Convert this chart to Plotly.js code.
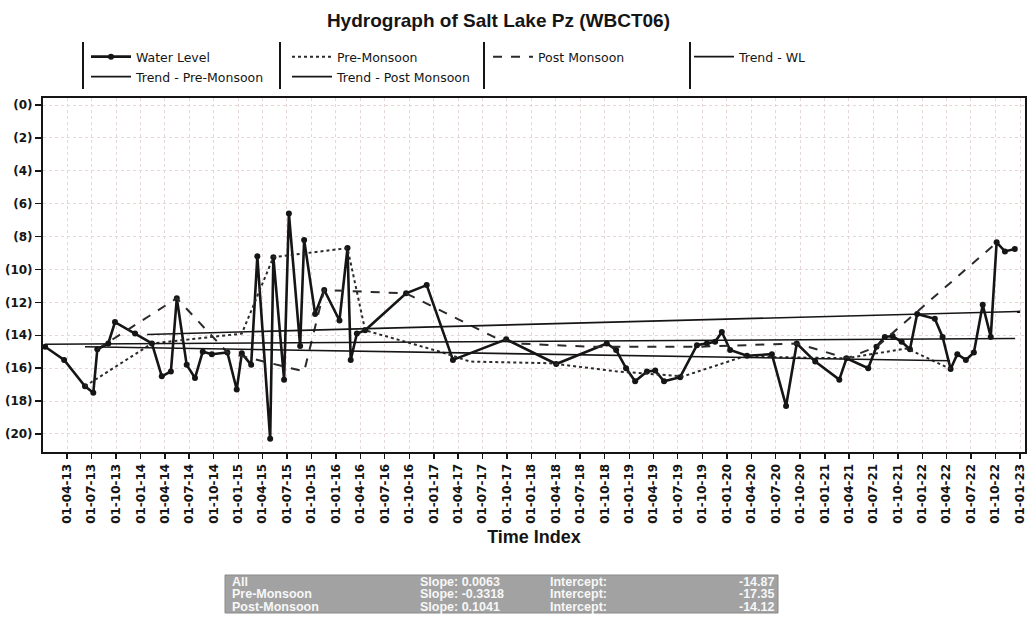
<!DOCTYPE html>
<html><head><meta charset="utf-8">
<script src="https://cdn.plot.ly/plotly-3.0.1.min.js"></script>
<style>html,body{margin:0;padding:0;background:#fff;} #chart{width:1032px;height:618px;}</style>
</head><body><div id="chart"></div>
<script>
// ---- Water level series (depth below ground, m; negative = below ground) ----
const wlDates = ['2013-01-09','2013-03-21','2013-06-07','2013-07-08','2013-07-23','2013-09-02','2013-09-27','2013-12-11',
 '2014-02-12','2014-03-21','2014-04-24','2014-05-16','2014-06-22','2014-07-23','2014-08-21','2014-09-24','2014-11-21','2014-12-26',
 '2015-01-14','2015-02-18','2015-03-13','2015-04-30','2015-05-12','2015-06-21','2015-07-09','2015-08-20','2015-09-04','2015-10-15','2015-11-18',
 '2016-01-14','2016-02-13','2016-02-25','2016-03-19','2016-04-19','2016-09-19','2016-12-05',
 '2017-03-13','2017-09-28','2018-04-03','2018-10-09','2018-11-13','2018-12-20',
 '2019-01-23','2019-03-08','2019-04-08','2019-05-11','2019-07-10','2019-09-11','2019-10-18','2019-11-18','2019-12-13',
 '2020-01-13','2020-03-16','2020-06-17','2020-08-09','2020-09-18','2020-11-26',
 '2021-02-24','2021-03-23','2021-06-12','2021-07-13','2021-08-13','2021-09-11','2021-10-15','2021-11-15','2021-12-12',
 '2022-02-16','2022-03-17','2022-04-16','2022-05-11','2022-06-12','2022-07-12','2022-08-14','2022-09-13','2022-10-05','2022-11-05','2022-12-12'];
const wlValues = [-14.7,-15.5,-17.1,-17.5,-14.85,-14.5,-13.2,-13.9,
 -14.5,-16.5,-16.2,-11.75,-15.8,-16.6,-15.0,-15.15,-15.05,-17.3,
 -15.1,-15.8,-9.2,-20.3,-9.25,-16.7,-6.6,-14.65,-8.2,-12.7,-11.25,
 -13.1,-8.7,-15.5,-13.9,-13.7,-11.45,-10.95,
 -15.5,-14.25,-15.75,-14.5,-14.9,-16.0,
 -16.8,-16.2,-16.15,-16.8,-16.55,-14.6,-14.5,-14.4,-13.8,
 -14.9,-15.25,-15.15,-18.3,-14.5,-15.6,
 -16.7,-15.4,-16.0,-14.7,-14.1,-14.05,-14.4,-14.85,-12.7,
 -13.0,-14.1,-16.05,-15.15,-15.5,-15.05,-12.15,-14.1,-8.35,-8.9,-8.75];

// ---- Pre-Monsoon series ----
const preDates = ['2013-06-07','2014-02-12','2015-01-14','2015-05-12','2016-02-13','2016-04-19','2017-01-24','2017-05-16',
 '2018-03-11','2018-11-17','2019-07-21','2020-03-02','2021-03-23','2021-11-03','2022-04-16'];
const preValues = [-17.1,-14.5,-13.9,-9.25,-8.7,-13.7,-15.0,-15.6,-15.7,-16.2,-16.5,-15.3,-15.4,-14.8,-16.05];

// ---- Post-Monsoon series ----
const postDates = ['2013-07-23','2014-05-16','2014-11-21','2015-09-04','2015-11-18','2016-09-19','2017-08-25','2017-11-08',
 '2018-08-08','2019-09-12','2020-09-19','2021-03-24','2021-07-14','2022-10-06'];
const postValues = [-14.85,-11.75,-15.05,-16.2,-11.25,-11.45,-14.2,-14.5,-14.7,-14.7,-14.5,-15.4,-14.7,-8.35];

// ---- Trend lines (end points) ----
const trendWLDates = ['2013-01-09','2022-12-13'];
const trendWLValues = [-14.55,-14.2];
const trendPreDates = ['2013-06-07','2022-04-14'];
const trendPreValues = [-14.7,-15.55];
const trendPostDates = ['2014-01-25','2023-01-01'];
const trendPostValues = [-13.95,-12.55];

// ---- Axis ticks ----
const xTickVals = ['2013-04-01','2013-07-01','2013-10-01',
 '2014-01-01','2014-04-01','2014-07-01','2014-10-01','2015-01-01','2015-04-01','2015-07-01','2015-10-01',
 '2016-01-01','2016-04-01','2016-07-01','2016-10-01','2017-01-01','2017-04-01','2017-07-01','2017-10-01',
 '2018-01-01','2018-04-01','2018-07-01','2018-10-01','2019-01-01','2019-04-01','2019-07-01','2019-10-01',
 '2020-01-01','2020-04-01','2020-07-01','2020-10-01','2021-01-01','2021-04-01','2021-07-01','2021-10-01',
 '2022-01-01','2022-04-01','2022-07-01','2022-10-01','2023-01-01'];
const xTickText = ['01-04-13','01-07-13','01-10-13',
 '01-01-14','01-04-14','01-07-14','01-10-14','01-01-15','01-04-15','01-07-15','01-10-15',
 '01-01-16','01-04-16','01-07-16','01-10-16','01-01-17','01-04-17','01-07-17','01-10-17',
 '01-01-18','01-04-18','01-07-18','01-10-18','01-01-19','01-04-19','01-07-19','01-10-19',
 '01-01-20','01-04-20','01-07-20','01-10-20','01-01-21','01-04-21','01-07-21','01-10-21',
 '01-01-22','01-04-22','01-07-22','01-10-22','01-01-23'];
const yTickVals = [0,-2,-4,-6,-8,-10,-12,-14,-16,-18,-20];
const yTickText = ['(0)','(2)','(4)','(6)','(8)','(10)','(12)','(14)','(16)','(18)','(20)'];

// ---- Regression summary ----
const statLabels = ['All','Pre-Monsoon','Post-Monsoon'];
const statSlopes = ['0.0063','-0.3318','0.1041'];
const statIntercepts = ['-14.87','-17.35','-14.12'];

const ink = '#151515';
const traces = [
  {x: wlDates, y: wlValues, name: 'Water Level', type: 'scatter', mode: 'lines+markers',
   line: {color: ink, width: 2.6}, marker: {color: ink, size: 6, symbol: 'circle'}, legend: 'legend'},
  {x: preDates, y: preValues, name: 'Pre-Monsoon', type: 'scatter', mode: 'lines',
   line: {color: '#2a2a2a', width: 2, dash: 'dot'}, legend: 'legend'},
  {x: postDates, y: postValues, name: 'Post Monsoon', type: 'scatter', mode: 'lines',
   line: {color: '#2a2a2a', width: 2, dash: 'dash'}, legend: 'legend'},
  {x: trendWLDates, y: trendWLValues, name: 'Trend - WL', type: 'scatter', mode: 'lines',
   line: {color: ink, width: 1.6}, legend: 'legend'},
  {x: trendPreDates, y: trendPreValues, name: 'Trend - Pre-Monsoon', type: 'scatter', mode: 'lines',
   line: {color: ink, width: 1.6}, legend: 'legend2'},
  {x: trendPostDates, y: trendPostValues, name: 'Trend - Post Monsoon', type: 'scatter', mode: 'lines',
   line: {color: ink, width: 1.6}, legend: 'legend2'}
];

// pixel helpers for paper coordinates (plot area: x 43..1025, y 98..452)
const PL = 43, PW = 982, PB = 452, PH = 354;
const px = v => (v - PL) / PW;
const py = v => (PB - v) / PH;

const legendFont = {family: 'DejaVu Sans, Arial, sans-serif', size: 12.5, color: ink};
const legCommon = {orientation: 'h', xanchor: 'left', yanchor: 'middle', entrywidth: 146, entrywidthmode: 'pixels',
  font: legendFont, bgcolor: 'rgba(0,0,0,0)', borderwidth: 0, itemwidth: 40, traceorder: 'normal'};

const shapes = [];
[83, 280, 484, 690].forEach(xp => shapes.push({type: 'line', xref: 'paper', yref: 'paper',
  x0: px(xp), x1: px(xp), y0: py(42), y1: py(89), line: {color: ink, width: 2}}));
shapes.push({type: 'rect', xref: 'paper', yref: 'paper', x0: px(225), x1: px(778), y0: py(575), y1: py(613),
  fillcolor: '#a2a2a2', line: {color: '#8a8a8a', width: 1}, layer: 'above'});

const annotations = [];
const statFont = {family: 'Liberation Sans, Arial, sans-serif', size: 12.5, color: '#f7f7f7', weight: 'bold'};
const rowY = [581.5, 594, 606.5];
statLabels.forEach((lab, i) => {
  const yv = py(rowY[i]);
  annotations.push({xref: 'paper', yref: 'paper', x: px(230), y: yv, xanchor: 'left', yanchor: 'middle', showarrow: false, text: lab, font: statFont});
  annotations.push({xref: 'paper', yref: 'paper', x: px(418), y: yv, xanchor: 'left', yanchor: 'middle', showarrow: false, text: 'Slope: ' + statSlopes[i], font: statFont});
  annotations.push({xref: 'paper', yref: 'paper', x: px(548), y: yv, xanchor: 'left', yanchor: 'middle', showarrow: false, text: 'Intercept:', font: statFont});
  annotations.push({xref: 'paper', yref: 'paper', x: px(776), y: yv, xanchor: 'right', yanchor: 'middle', showarrow: false, text: statIntercepts[i], font: statFont});
});

const gridColor = '#e6d6d6';
const tickFont = {family: 'DejaVu Sans, Arial, sans-serif', size: 12, color: ink, weight: 'bold'};
const layout = {
  width: 1032, height: 618,
  margin: {l: 43, r: 7, t: 98, b: 166},
  paper_bgcolor: '#ffffff', plot_bgcolor: '#ffffff',
  title: {text: 'Hydrograph of Salt Lake Pz (WBCT06)', x: 0.483, xanchor: 'center', y: 0.967, yanchor: 'middle',
    font: {family: 'Liberation Sans, Arial, sans-serif', size: 19, weight: 'bold', color: ink}},
  xaxis: {type: 'date', range: ['2013-01-01', '2023-01-19'], tickmode: 'array', tickvals: xTickVals, ticktext: xTickText,
    tickangle: -90, ticks: 'outside', ticklen: 5, tickwidth: 1.5, tickcolor: ink,
    showline: true, linewidth: 2, linecolor: ink, mirror: true, zeroline: false,
    showgrid: true, gridcolor: gridColor, griddash: 'dot', gridwidth: 1,
    tickfont: tickFont,
    title: {text: 'Time Index', standoff: 8, font: {family: 'Liberation Sans, Arial, sans-serif', size: 18, weight: 'bold', color: ink}}},
  yaxis: {range: [-21.1, 0.43], tickmode: 'array', tickvals: yTickVals, ticktext: yTickText,
    ticks: 'outside', ticklen: 6, tickwidth: 1.5, tickcolor: ink,
    showline: true, linewidth: 2, linecolor: ink, mirror: true, zeroline: false,
    showgrid: true, gridcolor: gridColor, griddash: 'dot', gridwidth: 1,
    tickfont: tickFont},
  legend: Object.assign({}, legCommon, {x: px(86), y: py(57)}),
  legend2: Object.assign({}, legCommon, {x: px(86), y: py(77)}),
  shapes: shapes,
  annotations: annotations,
  showlegend: true
};

Plotly.newPlot('chart', traces, layout, {displayModeBar: false, staticPlot: true});
</script></body></html>
